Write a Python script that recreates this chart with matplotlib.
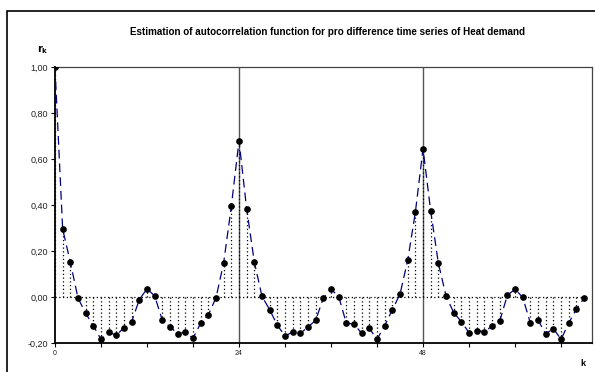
import matplotlib.pyplot as plt
from matplotlib.patches import Rectangle

# autocorrelation estimates r_k, k = 0..69
lags = list(range(70))
acf = [1.00, 0.297, 0.153, -0.003, -0.070, -0.123, -0.183, -0.152, -0.165, -0.132,
       -0.106, -0.010, 0.037, 0.006, -0.100, -0.128, -0.158, -0.152, -0.178, -0.113,
       -0.076, -0.002, 0.150, 0.396, 0.681, 0.384, 0.153, 0.004, -0.054, -0.122,
       -0.168, -0.151, -0.157, -0.129, -0.100, -0.003, 0.035, 0.003, -0.113, -0.116,
       -0.157, -0.135, -0.183, -0.123, -0.054, 0.014, 0.161, 0.370, 0.646, 0.375,
       0.148, 0.006, -0.067, -0.106, -0.154, -0.145, -0.149, -0.126, -0.103, 0.009,
       0.035, 0.000, -0.113, -0.099, -0.160, -0.136, -0.183, -0.112, -0.051, -0.004]
yticks = [-0.2, 0.0, 0.2, 0.4, 0.6, 0.8, 1.0]
xticks = list(range(0, 70, 6))
xlabels = [str(t) if t % 24 == 0 else "" for t in xticks]
season_lines = [24, 48]

plt.rcParams['font.family'] = ['Liberation Sans', 'DejaVu Sans']

fig = plt.figure(figsize=(5.95, 3.72), dpi=100)
ax = fig.add_axes([0.0924, 0.0772, 0.9021, 0.7418])

# outer chart frame (only left/top edges visible)
fig.patches.append(Rectangle((7 / 595, -0.1), 1.2, 1.1 - 11 / 372,
                             transform=fig.transFigure, fill=False,
                             edgecolor='black', linewidth=1.2))

for s in season_lines:
    ax.axvline(s, color='#555555', linewidth=1.0, zorder=1)

ax.hlines(0, 0, lags[-1], colors='black', linestyles=(0, (1, 2)), linewidth=0.9, zorder=2)
ax.vlines(lags, 0, acf, colors='black', linestyles=(0, (1, 2)), linewidth=0.9, zorder=2)
ax.plot(lags, acf, color='#000080', linestyle=(0, (7, 4)), linewidth=0.9, zorder=3)
ax.plot(lags, acf, linestyle='none', marker='o', markersize=3.8,
        color='black', zorder=4)

ax.set_xlim(0, 70)
ax.set_ylim(-0.2, 1.0)
ax.set_yticks(yticks)
ax.set_yticklabels([f"{v:.2f}".replace('.', ',') for v in yticks], fontsize=6.5, color='#222222')
ax.set_xticks(xticks)
ax.set_xticklabels(xlabels, fontsize=5, color='#222222')
ax.tick_params(axis='both', direction='out', length=3, width=0.8, pad=2)

for side in ['top', 'right']:
    ax.spines[side].set_color('#444444')
    ax.spines[side].set_linewidth(0.9)
for side in ['left', 'bottom']:
    ax.spines[side].set_color('black')
    ax.spines[side].set_linewidth(1.3)

fig.text(328 / 595, 1 - 32 / 372, "Estimation of autocorrelation function for pro difference time series of Heat demand",
         ha='center', va='center', fontsize=7.1, fontweight='bold')
fig.text(43 / 595, 1 - 50 / 372, r"$\mathbf{r_k}$", ha='center', va='center', fontsize=7)
fig.text(583 / 595, 1 - 364 / 372, "k", ha='center', va='center', fontsize=6.5, fontweight='bold')

fig.savefig("out.png", dpi=100)
